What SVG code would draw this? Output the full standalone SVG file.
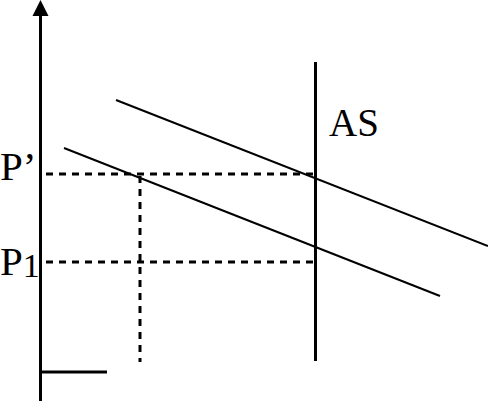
<svg xmlns="http://www.w3.org/2000/svg" width="488" height="401" viewBox="0 0 488 401">
<style>
.ax{stroke:#000;stroke-width:3;fill:none}
.ln{stroke:#000;stroke-width:2;fill:none}
.ds{stroke:#000;stroke-width:3;fill:none;stroke-dasharray:7 6}
text{font-family:"Liberation Serif","Times New Roman",serif;fill:#000}
</style>
<rect width="488" height="401" fill="#fff"/>
<g id="axes">
<line class="ax" x1="40.5" y1="14" x2="40.5" y2="401"/>
<polygon points="40.5,0 32.5,16 48.5,16" fill="#000"/>
<line class="ax" x1="40" y1="372" x2="107" y2="372"/>
</g>
<g id="connectors">
<line class="ln" x1="116" y1="100" x2="488" y2="246"/>
<line class="ln" x1="64" y1="148" x2="440" y2="296"/>
<line class="ds" x1="46" y1="174" x2="316" y2="174"/>
<line class="ds" x1="46" y1="262" x2="316" y2="262"/>
<line class="ds" x1="140" y1="176" x2="140" y2="362"/>
</g>
<g id="AS">
<line class="ax" x1="315.5" y1="62" x2="315.5" y2="361"/>
<text x="329" y="136" font-size="39">AS</text>
</g>
<g id="Pprime"><text x="0" y="180" font-size="41">P’</text></g>
<g id="P1"><text x="0" y="275" font-size="41">P<tspan font-size="34" dy="2">1</tspan></text></g>
</svg>
